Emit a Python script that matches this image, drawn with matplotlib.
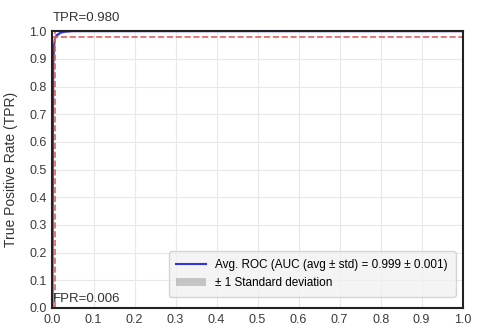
import matplotlib
matplotlib.use("Agg")
import matplotlib.pyplot as plt
import numpy as np

plt.rcParams['font.family'] = ['Liberation Sans', 'DejaVu Sans']

fpr = [0.0, 0.001, 0.002, 0.004, 0.006, 0.01, 0.015, 0.02, 0.03, 0.05, 1.0]
tpr = [0.0, 0.60, 0.88, 0.95, 0.975, 0.985, 0.99, 0.995, 0.998, 1.0, 1.0]
tpr_std = [0.0, 0.05, 0.03, 0.02, 0.01, 0.008, 0.006, 0.004, 0.002, 0.0, 0.0]
thr_tpr = 0.980
thr_fpr = 0.006
ticks = [0.0, 0.1, 0.2, 0.3, 0.4, 0.5, 0.6, 0.7, 0.8, 0.9, 1.0]

fig = plt.figure(figsize=(4.86, 3.28), dpi=100)
ax = fig.add_axes([0.108, 0.061, 0.844, 0.844])
ax.set_facecolor("white")
ax.grid(True, color="#e8e8e8", linewidth=0.8)
ax.set_axisbelow(True)

tpr_a = np.array(tpr)
std_a = np.array(tpr_std)
ax.plot(fpr, tpr, color="#3333dd", lw=1.5,
        label="Avg. ROC (AUC (avg ± std) = 0.999 ± 0.001)")
ax.fill_between(fpr, np.maximum(tpr_a - std_a, 0), np.minimum(tpr_a + std_a, 1),
                color="grey", alpha=0.4, label="± 1 Standard deviation", lw=0)
ax.axhline(thr_tpr, color="#e06060", ls="--", lw=1.2)
ax.axvline(thr_fpr, color="#e06060", ls="--", lw=1.2)

ax.set_xlim(0, 1)
ax.set_ylim(0, 1)
ax.set_xticks(ticks)
ax.set_yticks(ticks)
ax.tick_params(labelsize=9, colors="#3a3a3a", length=0, pad=4)
for s in ax.spines.values():
    s.set_color("#222222")
    s.set_linewidth(1.5)
ax.set_ylabel("True Positive Rate (TPR)", fontsize=10, color="#333333", labelpad=8)

ax.text(0.0, 1.025, "TPR=%.3f" % thr_tpr, transform=ax.transAxes, fontsize=9.5,
        color="#333333", va="bottom", ha="left")
ax.text(thr_fpr - 0.006, 0.012, "FPR=%.3f" % thr_fpr, fontsize=9.5, color="#333333",
        va="bottom", ha="left")

leg = ax.legend(loc="lower right", fontsize=8.5, frameon=True, facecolor="#f2f2f2",
                edgecolor="#cccccc", handlelength=2.5, borderpad=0.65,
                bbox_to_anchor=(0.997, 0.02))
fig.savefig("out.png", dpi=100, facecolor="white")
